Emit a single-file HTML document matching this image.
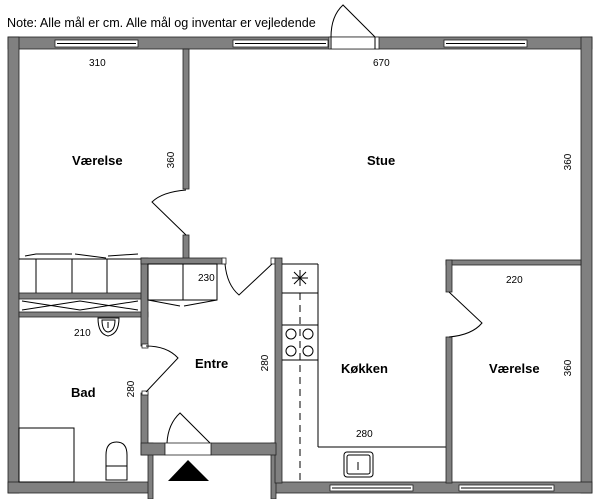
<!DOCTYPE html>
<html><head><meta charset="utf-8"><style>
html,body{margin:0;padding:0;background:#fff;}
svg{display:block;}
text{font-family:"Liberation Sans",sans-serif;fill:#000;}
.w{fill:#808080;stroke:#222;stroke-width:0.8;}
.l{fill:none;stroke:#000;stroke-width:1;}
.win{fill:#fff;stroke:#222;stroke-width:0.8;}
.d{font-size:10px;}
.r{font-size:13px;font-weight:bold;}
</style></head><body>
<svg width="600" height="499" viewBox="0 0 600 499" xmlns="http://www.w3.org/2000/svg">
<text x="7" y="27" style="font-size:12.6px">Note: Alle mål er cm. Alle mål og inventar er vejledende</text>
<rect class="w" x="8" y="37" width="584" height="12"/>
<rect class="w" x="8" y="37" width="11" height="456"/>
<rect class="w" x="581" y="37" width="11" height="456"/>
<rect class="w" x="8" y="482" width="145" height="11"/>
<rect class="w" x="271" y="482" width="321" height="11"/>
<rect x="153" y="456" width="118" height="43" fill="#fff"/>
<rect class="w" x="148" y="443" width="5" height="56"/>
<rect class="w" x="271" y="443" width="5" height="56"/>
<polygon points="168,481 188,460 209,481" fill="#000"/>
<rect class="win" x="55" y="40" width="83" height="7"/><line class="l" x1="57" y1="43.5" x2="136" y2="43.5"/>
<rect class="win" x="233" y="40" width="95" height="7"/><line class="l" x1="235" y1="43.5" x2="326" y2="43.5"/>
<rect class="win" x="444" y="40" width="83" height="7"/><line class="l" x1="446" y1="43.5" x2="525" y2="43.5"/>
<rect x="329" y="37" width="50" height="12" fill="#fff" stroke="#222" stroke-width="0.8"/>
<line class="l" x1="331" y1="37" x2="331" y2="49"/><line class="l" x1="375" y1="37" x2="375" y2="49"/>
<path class="l" d="M331,37 Q331,16 343,5 L375,37"/>
<rect class="win" x="330" y="485" width="83" height="6"/><line class="l" x1="332" y1="488" x2="411" y2="488"/>
<rect class="win" x="459" y="485" width="95" height="6"/><line class="l" x1="461" y1="488" x2="552" y2="488"/>
<rect class="w" x="183" y="49" width="6" height="140"/>
<rect class="w" x="183" y="235" width="6" height="24"/>
<path class="l" d="M186,190 Q162,192 152,202 L186,235"/>
<line class="l" x1="19" y1="259" x2="141" y2="259"/>
<line class="l" x1="36" y1="259" x2="36" y2="293"/>
<line class="l" x1="72" y1="259" x2="72" y2="293"/>
<line class="l" x1="107" y1="259" x2="107" y2="293"/>
<path class="l" d="M25,256 L36,254 L70,254 L72,254 M75,254 L106,258 M108,256 L138,254" stroke-width="0.7"/>
<rect class="w" x="19" y="293" width="129" height="6"/>
<rect class="w" x="19" y="312" width="129" height="5"/>
<path class="l" d="M22,301 L80,310 L138,301 M22,310 L80,301 L138,310" stroke-width="0.6"/>
<rect class="w" x="141" y="258" width="7" height="88"/>
<rect class="w" x="141" y="393" width="7" height="62"/>
<rect class="w" x="141" y="258" width="82" height="6"/>
<rect x="222" y="258" width="4" height="6" fill="#fff" stroke="#222" stroke-width="0.8"/>
<rect x="271" y="258" width="4" height="6" fill="#fff" stroke="#222" stroke-width="0.8"/>
<rect class="w" x="275" y="258" width="7" height="225"/>
<rect class="w" x="141" y="443" width="24" height="12"/>
<rect class="w" x="211" y="443" width="65" height="12"/>
<rect x="165" y="443" width="46" height="12" fill="#fff" stroke="#222" stroke-width="0.8"/>
<path class="l" d="M167,443 Q168,424 180,413 L210,443"/>
<rect class="l" x="148" y="264" width="69" height="36"/>
<line class="l" x1="183" y1="264" x2="183" y2="300"/>
<path class="l" d="M148,300 L180,306 M184,306 L217,300" stroke-width="0.7"/>
<path class="l" d="M225,264 Q227,285 239,295 L272,264"/>
<rect x="142" y="344" width="6" height="4" fill="#fff" stroke="#222" stroke-width="0.8"/>
<rect x="142" y="391" width="6" height="4" fill="#fff" stroke="#222" stroke-width="0.8"/>
<path class="l" d="M146,346 Q167,346 178,358 L146,392"/>
<path class="l" d="M98,318 L119,318 Q119,334 108,336 Q98,334 98,318 Z"/>
<path class="l" d="M102,320 L115,320 Q115,331 108,332 Q102,331 102,320 Z"/>
<line class="l" x1="108" y1="322" x2="108" y2="328"/>
<rect class="l" x="19" y="428" width="55" height="54"/>
<path class="l" d="M106,480 L127,480 L127,455 Q127,442 116.5,442 Q106,442 106,455 Z"/>
<line class="l" x1="106" y1="466" x2="127" y2="466"/>
<line class="l" x1="318" y1="264" x2="318" y2="447"/>
<line class="l" x1="282" y1="264" x2="318" y2="264"/>
<line class="l" x1="282" y1="293" x2="318" y2="293"/>
<line class="l" x1="282" y1="325" x2="318" y2="325"/>
<line class="l" x1="282" y1="360" x2="318" y2="360"/>
<line class="l" x1="318" y1="447" x2="446" y2="447"/>
<line x1="300" y1="293" x2="300" y2="482" stroke="#000" stroke-dasharray="7,5"/>
<path class="l" d="M292,278 L308,278 M300,270 L300,286 M294,272 L306,284 M306,272 L294,284" stroke-width="0.7"/>
<circle class="l" cx="291" cy="334" r="5"/><circle class="l" cx="308" cy="334" r="5"/>
<circle class="l" cx="291" cy="351" r="5"/><circle class="l" cx="308" cy="351" r="5"/>
<rect class="l" x="344" y="452" width="29" height="25" rx="3"/>
<rect class="l" x="347" y="455" width="23" height="19" rx="2"/>
<line class="l" x1="358" y1="462" x2="358" y2="470"/>
<rect class="w" x="446" y="260" width="135" height="5"/>
<rect class="w" x="446" y="260" width="6" height="32"/>
<rect class="w" x="446" y="337" width="6" height="146"/>
<path class="l" d="M449,292 L482,323 Q472,335 449,337"/>
<text class="d" x="89" y="66">310</text>
<text class="d" x="373" y="66">670</text>
<text class="r" x="72" y="165">Værelse</text>
<text class="r" x="367" y="165">Stue</text>
<text class="d" transform="translate(174,160) rotate(-90)" text-anchor="middle">360</text>
<text class="d" transform="translate(571,162) rotate(-90)" text-anchor="middle">360</text>
<text class="d" x="198" y="281">230</text>
<text class="d" x="506" y="283">220</text>
<text class="d" x="74" y="336">210</text>
<text class="r" x="195" y="368">Entre</text>
<text class="d" transform="translate(268,363) rotate(-90)" text-anchor="middle">280</text>
<text class="r" x="341" y="373">Køkken</text>
<text class="r" x="489" y="373">Værelse</text>
<text class="d" transform="translate(571,368) rotate(-90)" text-anchor="middle">360</text>
<text class="r" x="71" y="397">Bad</text>
<text class="d" transform="translate(134,389) rotate(-90)" text-anchor="middle">280</text>
<text class="d" x="356" y="437">280</text>
</svg>
</body></html>
